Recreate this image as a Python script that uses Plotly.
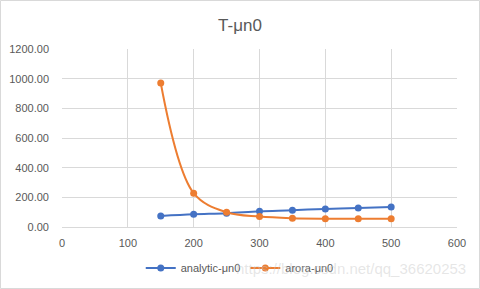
import plotly.graph_objects as go

T = [150, 200, 250, 300, 350, 400, 450, 500]
analytic = [75, 86, 93, 106, 113, 122, 128, 135]
arora = [971, 228, 99, 70, 59, 56, 56, 56]
x_ticks = [0, 100, 200, 300, 400, 500, 600]
y_ticks = [0, 200, 400, 600, 800, 1000, 1200]

fig = go.Figure()
fig.add_trace(go.Scatter(x=T, y=analytic, name="analytic-μn0", mode="lines+markers",
                         line=dict(color="#4472C4", width=2, shape="spline"),
                         marker=dict(color="#4472C4", size=7)))
fig.add_trace(go.Scatter(x=T, y=arora, name="arora-μn0", mode="lines+markers",
                         line=dict(color="#ED7D31", width=2, shape="spline", smoothing=1.0),
                         marker=dict(color="#ED7D31", size=7)))

fig.update_layout(
    width=480, height=289,
    margin=dict(l=62, r=23, t=49, b=62, autoexpand=False),
    paper_bgcolor="white", plot_bgcolor="white",
    font=dict(family="Liberation Sans", size=11, color="#595959"),
    title=dict(text="T-μn0", x=0.5, xanchor="center", y=1 - 25/289, yanchor="middle",
               font=dict(size=17, color="#595959")),
    xaxis=dict(range=[0, 600], tickvals=x_ticks, showgrid=True, gridcolor="#D9D9D9",
               zeroline=False, showline=False, ticks="", ticklabelstandoff=8,
               automargin=False, fixedrange=True),
    yaxis=dict(range=[0, 1200], tickvals=y_ticks, tickformat=".2f", showgrid=True,
               gridcolor="#D9D9D9", zeroline=True, zerolinecolor="#D9D9D9", zerolinewidth=1,
               showline=False, ticks="", ticklabelstandoff=12, automargin=False,
               fixedrange=True),
    legend=dict(orientation="h", x=0.45, xanchor="center", y=-0.23, yanchor="middle",
                font=dict(size=11, color="#595959"), bgcolor="rgba(0,0,0,0)"),
    showlegend=True,
)
fig.add_shape(type="rect", xref="paper", yref="paper",
              x0=(0.5 - 62) / 395, x1=(479.5 - 62) / 395,
              y0=(227 - 288.5) / 178, y1=(227 - 0.5) / 178,
              line=dict(color="#D9D9D9", width=1), fillcolor="rgba(0,0,0,0)")
fig.add_annotation(text="https://blog.csdn.net/qq_36620253", xref="paper", yref="paper",
                   x=(468 - 62) / 395, y=(227 - 268) / 178, xanchor="right", yanchor="middle",
                   showarrow=False, font=dict(size=15, color="rgba(200,200,200,0.45)"))
fig.write_html("out.html")
